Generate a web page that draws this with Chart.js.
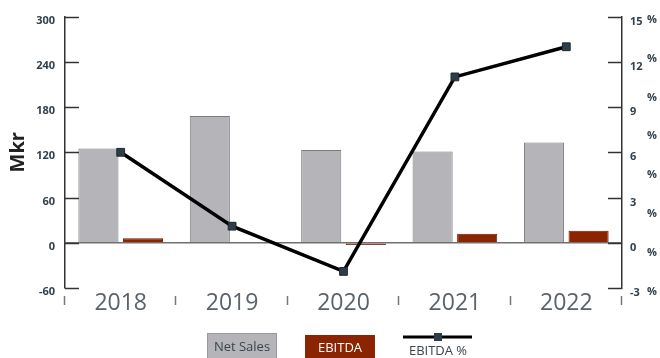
<!DOCTYPE html>
<html>

<head>
    <script src="https://cdn.jsdelivr.net/npm/chart.js"></script>
    <style>
        html,
        body {
            margin: 0px;
            background: #fff;
        }
    </style>
</head>

<body>
    <canvas id="myChart" width="660" height="358"></canvas>

    <script>

        const years = ['2018', '2019', '2020', '2021', '2022'];
        const netSales = [125, 168, 123, 121, 133];
        const ebitda = [6, 1, -3, 12, 16];
        const ebitdaPct = [6.0, 1.1, -1.9, 11.0, 13.0];

        const fontFamily = "'Open Sans', sans-serif";
        const axisColor = "#333333";
        const labelColor = "#33404a";

        // inward tick marks, category separators, the stray % labels and the legend
        const decorations = {
            id: 'decorations',
            afterDraw(chart) {
                const { ctx, chartArea, scales } = chart;
                const { top, bottom, left, right } = chartArea;

                ctx.save();
                ctx.strokeStyle = axisColor;
                ctx.lineWidth = 1.5;

                // left axis ticks point into the plot
                scales.y.ticks.forEach(t => {
                    const y = Math.round(scales.y.getPixelForValue(t.value)) + 0.5;
                    ctx.beginPath();
                    ctx.moveTo(left, y);
                    ctx.lineTo(left + 14, y);
                    ctx.stroke();
                });
                // right axis ticks too
                scales.y1.ticks.forEach(t => {
                    const y = Math.round(scales.y1.getPixelForValue(t.value)) + 0.5;
                    ctx.beginPath();
                    ctx.moveTo(right - 14, y);
                    ctx.lineTo(right, y);
                    ctx.stroke();
                });

                // short separators between the years, under the plot
                ctx.strokeStyle = '#777';
                ctx.lineWidth = 1.5;
                const step = (right - left) / years.length;
                for (let i = 0; i <= years.length; i++) {
                    const x = Math.round(left + i * step) - 0.5;
                    ctx.beginPath();
                    ctx.moveTo(x, bottom + 8);
                    ctx.lineTo(x, bottom + 17);
                    ctx.stroke();
                }

                // percent signs beside the right axis
                ctx.fillStyle = labelColor;
                ctx.font = "bold 11px " + fontFamily;
                ctx.textAlign = 'left';
                ctx.textBaseline = 'middle';
                const n = 8;
                const pTop = top + 3, pBot = bottom + 4;
                for (let i = 0; i < n; i++) {
                    ctx.fillText('%', right + 25, pTop + i * (pBot - pTop) / (n - 1));
                }

                // legend
                const ds = chart.data.datasets;
                ctx.font = "13px " + fontFamily;
                ctx.textAlign = 'center';

                ctx.fillStyle = ds[1].backgroundColor;
                ctx.fillRect(207, 333, 70, 26);
                ctx.strokeStyle = '#9a9a9e';
                ctx.lineWidth = 1;
                ctx.strokeRect(207.5, 333.5, 69, 26);
                ctx.fillStyle = '#3a454d';
                ctx.fillText(ds[1].label, 242, 347);

                ctx.fillStyle = ds[2].backgroundColor;
                ctx.fillRect(305, 335, 70, 24);
                ctx.fillStyle = '#ffffff';
                ctx.fillText(ds[2].label, 340, 348);

                ctx.strokeStyle = ds[0].borderColor;
                ctx.lineWidth = 3;
                ctx.beginPath();
                ctx.moveTo(403, 337);
                ctx.lineTo(472, 337);
                ctx.stroke();
                ctx.fillStyle = ds[0].pointBackgroundColor;
                ctx.fillRect(434, 333, 8, 8);
                ctx.fillStyle = '#3a454d';
                ctx.fillText(ds[0].label, 438, 351);

                ctx.restore();
            }
        };

        var context = document.getElementById('myChart').getContext('2d');
        var chart = new Chart(context, {
            type: 'bar',
            data: {
                labels: years,
                datasets: [
                    {
                        type: 'line',
                        label: 'EBITDA %',
                        data: ebitdaPct,
                        yAxisID: 'y1',
                        order: 0,
                        borderColor: '#000000',
                        borderWidth: 3.5,
                        pointStyle: 'rect',
                        pointRadius: 5.5,
                        pointBackgroundColor: '#2e3d46',
                        pointBorderColor: '#1f2a30',
                        pointBorderWidth: 1,
                        tension: 0,
                    },
                    {
                        label: 'Net Sales',
                        data: netSales,
                        yAxisID: 'y',
                        order: 1,
                        backgroundColor: '#b4b4b9',
                        borderColor: '#7d7d80',
                        borderWidth: 1,
                        categoryPercentage: 0.8,
                        barPercentage: 0.9,
                    },
                    {
                        label: 'EBITDA',
                        data: ebitda,
                        yAxisID: 'y',
                        order: 1,
                        backgroundColor: '#8b2400',
                        borderColor: '#6a1c00',
                        borderWidth: 1,
                        categoryPercentage: 0.8,
                        barPercentage: 0.9,
                    },
                ],
            },
            options: {
                responsive: false,
                animation: false,
                layout: {
                    padding: { top: 15, left: 0, right: 0, bottom: 0 }
                },
                plugins: {
                    legend: { display: false },
                    tooltip: { enabled: false },
                },
                scales: {
                    x: {
                        grid: { display: false, drawTicks: false },
                        border: { display: false },
                        ticks: {
                            color: '#59636b',
                            font: { family: fontFamily, size: 23 },
                            padding: 2,
                        },
                        afterFit(scale) { scale.height = 70; },
                    },
                    y: {
                        position: 'left',
                        min: -60,
                        max: 300,
                        border: { display: true, color: axisColor, width: 1.5 },
                        grid: {
                            drawTicks: false,
                            lineWidth: 1.5,
                            color: c => (c.tick && c.tick.value === 0) ? '#707070' : 'transparent',
                        },
                        ticks: {
                            stepSize: 60,
                            padding: 10,
                            labelOffset: 4,
                            color: labelColor,
                            font: { family: fontFamily, size: 11, weight: 'bold' },
                        },
                        title: {
                            display: true,
                            text: 'Mkr',
                            color: '#222',
                            font: { family: fontFamily, size: 20, weight: 'bold' },
                            padding: { top: 6, bottom: 0 },
                        },
                        afterFit(scale) { scale.width = 65; },
                    },
                    y1: {
                        position: 'right',
                        min: -3,
                        max: 15,
                        border: { display: true, color: axisColor, width: 1.5 },
                        grid: { display: false, drawTicks: false },
                        ticks: {
                            stepSize: 3,
                            padding: 8,
                            labelOffset: 5,
                            color: labelColor,
                            font: { family: fontFamily, size: 11, weight: 'bold' },
                        },
                        afterFit(scale) { scale.width = 38; },
                    },
                },
            },
            plugins: [decorations],
        });

    </script>
</body>

</html>
